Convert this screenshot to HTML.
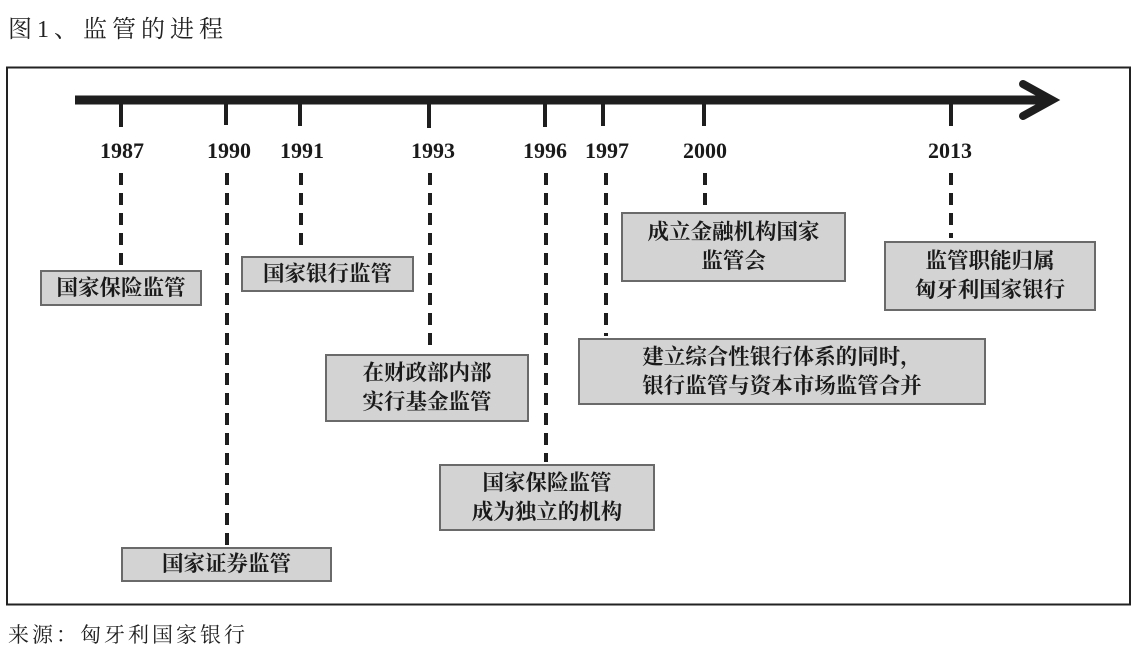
<!DOCTYPE html>
<html><head><meta charset="utf-8"><style>
html,body{margin:0;padding:0;background:#fff;}
body{width:1134px;height:656px;overflow:hidden;position:relative;}
svg{position:absolute;left:0;top:0;}
.b{position:absolute;background:#d3d3d3;border:2px solid #6a6a6a;box-sizing:border-box;display:flex;align-items:center;justify-content:center;text-align:center;font-family:"Liberation Serif","Noto Serif CJK SC",serif;font-weight:bold;font-size:21.5px;line-height:29px;color:#1a1a1a;}
.y{position:absolute;font-family:"Liberation Serif",serif;font-weight:bold;font-size:22px;color:#1a1a1a;transform:translateX(-50%);top:138px;}
.t{position:absolute;font-family:"Liberation Serif","Noto Serif CJK SC",serif;color:#222;}
</style></head><body>
<div class="t" style="left:8px;top:9px;font-size:24px;letter-spacing:5px;">图1、监管的进程</div>
<div class="t" style="left:8px;top:619px;font-size:21px;letter-spacing:3px;">来源：匈牙利国家银行</div>
<svg width="1134" height="656">
<rect x="7" y="67.5" width="1123" height="537" fill="none" stroke="#222" stroke-width="2"/>
<line x1="75" y1="100" x2="1045" y2="100" stroke="#1e1e1e" stroke-width="9"/>
<polyline points="1023,84 1052,100 1023,116" fill="none" stroke="#1e1e1e" stroke-width="8" stroke-linecap="round" stroke-linejoin="miter"/>
<g stroke="#1e1e1e" stroke-width="4">
<line x1="121" y1="104" x2="121" y2="127"/>
<line x1="226" y1="104" x2="226" y2="125"/>
<line x1="300" y1="104" x2="300" y2="126"/>
<line x1="429" y1="104" x2="429" y2="128"/>
<line x1="545" y1="104" x2="545" y2="127"/>
<line x1="603" y1="104" x2="603" y2="126"/>
<line x1="704" y1="104" x2="704" y2="126"/>
<line x1="951" y1="104" x2="951" y2="126"/>
</g>
<g stroke="#1e1e1e" stroke-width="4" stroke-dasharray="12,8">
<line x1="121" y1="173" x2="121" y2="266"/>
<line x1="227" y1="173" x2="227" y2="545"/>
<line x1="301" y1="173" x2="301" y2="250"/>
<line x1="430" y1="173" x2="430" y2="352"/>
<line x1="546" y1="173" x2="546" y2="462"/>
<line x1="606" y1="173" x2="606" y2="336"/>
<line x1="705" y1="173" x2="705" y2="206"/>
<line x1="951" y1="173" x2="951" y2="238"/>
</g>
</svg>
<div class="y" style="left:122px">1987</div>
<div class="y" style="left:229px">1990</div>
<div class="y" style="left:302px">1991</div>
<div class="y" style="left:433px">1993</div>
<div class="y" style="left:545px">1996</div>
<div class="y" style="left:607px">1997</div>
<div class="y" style="left:705px">2000</div>
<div class="y" style="left:950px">2013</div>
<div class="b" style="left:40px;top:270px;width:162px;height:36px;">国家保险监管</div>
<div class="b" style="left:241px;top:256px;width:173px;height:36px;">国家银行监管</div>
<div class="b" style="left:325px;top:354px;width:204px;height:68px;">在财政部内部<br>实行基金监管</div>
<div class="b" style="left:439px;top:464px;width:216px;height:67px;">国家保险监管<br>成为独立的机构</div>
<div class="b" style="left:121px;top:547px;width:211px;height:35px;">国家证券监管</div>
<div class="b" style="left:621px;top:212px;width:225px;height:70px;">成立金融机构国家<br>监管会</div>
<div class="b" style="left:578px;top:338px;width:408px;height:67px;">建立综合性银行体系的同时，<br>银行监管与资本市场监管合并</div>
<div class="b" style="left:884px;top:241px;width:212px;height:70px;">监管职能归属<br>匈牙利国家银行</div>
</body></html>
